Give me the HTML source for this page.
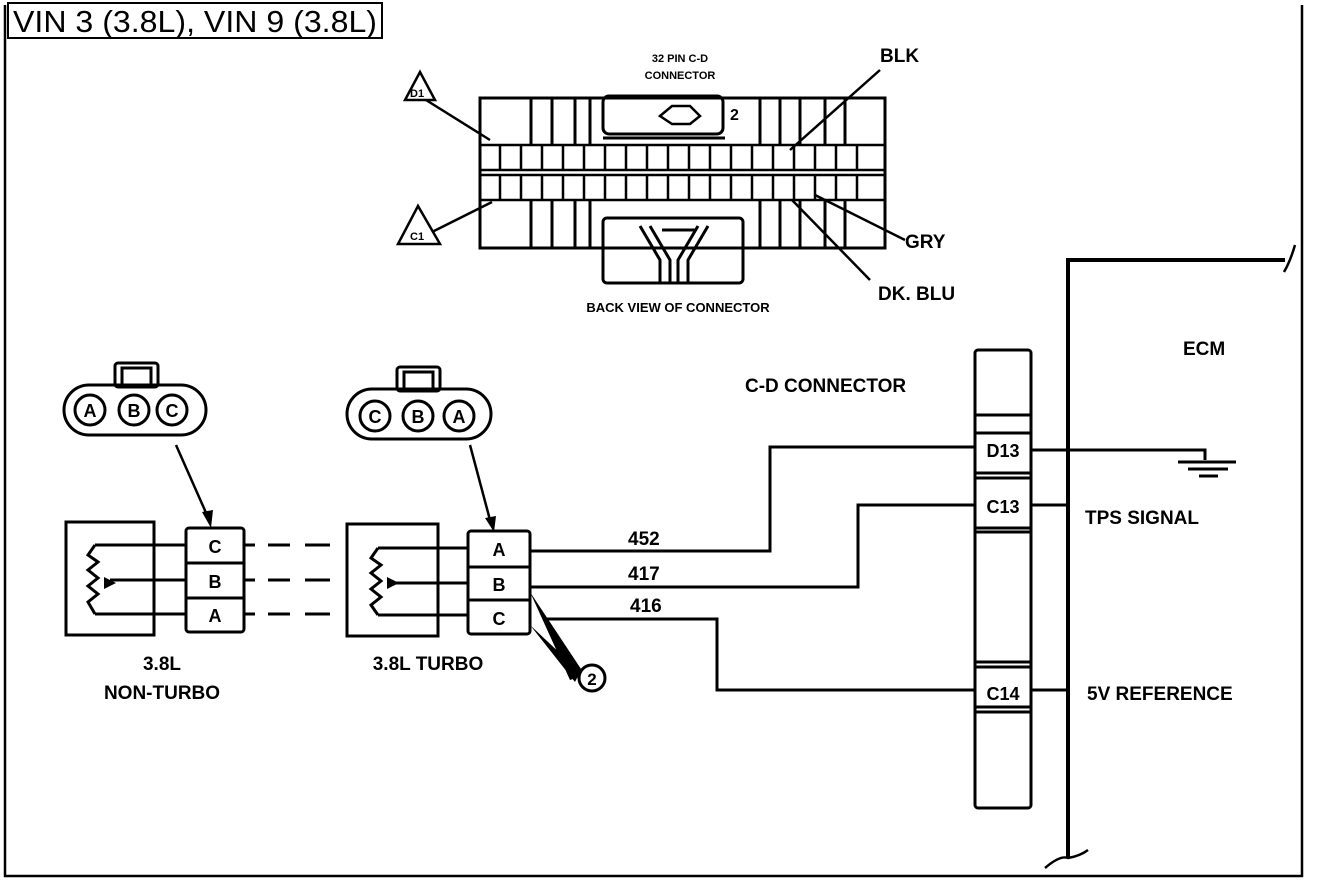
<!DOCTYPE html>
<html><head><meta charset="utf-8"><style>
html,body{margin:0;padding:0;background:#fff}
svg{display:block}
.b{font-family:"Liberation Sans",sans-serif;font-weight:bold;fill:#000}
</style></head><body>
<svg width="1328" height="880" viewBox="0 0 1328 880" xmlns="http://www.w3.org/2000/svg">
<g fill="none" stroke="#000" stroke-width="2.5">
<path d="M5 5 V876 H1302 V5"/>
<rect x="8" y="3" width="374" height="35" stroke-width="2"/>
</g>
<text x="13" y="32" font-family="Liberation Sans, sans-serif" font-size="31" fill="#000" textLength="364" lengthAdjust="spacingAndGlyphs">VIN 3 (3.8L), VIN 9 (3.8L)</text>

<g fill="none" stroke="#000" stroke-width="3">
<rect x="480" y="98" width="405" height="150"/>
<rect x="603" y="96" width="120" height="38" rx="6"/>
<path d="M603 138 H725"/>
<rect x="603" y="218" width="140" height="65" rx="4"/>
<path d="M640 226 L660 260 V283 M650 226 L670 260 V283 M708 226 L688 260 V283 M698 226 L678 260 V283 M662 230 H696"/>
<path d="M660 116 L672 106 L690 106 L700 116 L690 124 L672 124 Z" stroke-width="2.5"/>
<path d="M531 98 V145 M552 98 V145 M575 98 V145 M590 98 V145 M760 98 V145 M780 98 V145 M800 98 V145 M825 98 V145 M845 98 V145 M531 200 V248 M552 200 V248 M575 200 V248 M590 200 V248 M760 200 V248 M780 200 V248 M800 200 V248 M825 200 V248 M845 200 V248"/>
</g>
<g fill="none" stroke="#000" stroke-width="2.5">
<path d="M480 145 H885 M480 170 H885 M480 175 H885 M480 200 H885"/>
<path d="M500 145 V170 M521 145 V170 M542 145 V170 M563 145 V170 M584 145 V170 M605 145 V170 M626 145 V170 M647 145 V170 M668 145 V170 M689 145 V170 M710 145 V170 M731 145 V170 M752 145 V170 M773 145 V170 M794 145 V170 M815 145 V170 M836 145 V170 M857 145 V170"/>
<path d="M500 175 V200 M521 175 V200 M542 175 V200 M563 175 V200 M584 175 V200 M605 175 V200 M626 175 V200 M647 175 V200 M668 175 V200 M689 175 V200 M710 175 V200 M731 175 V200 M752 175 V200 M773 175 V200 M794 175 V200 M815 175 V200 M836 175 V200 M857 175 V200"/>
<path d="M426 100 L490 140 M432 232 L492 202 M880 70 L790 150 M905 240 L815 195 M870 280 L792 200"/>
<path d="M420 72 L405 100 H435 Z M418 206 L398 244 H440 Z"/>
</g>
<text class="b" x="410" y="97" font-size="11">D1</text>
<text class="b" x="410" y="240" font-size="11">C1</text>
<text class="b" x="680" y="62" font-size="11" text-anchor="middle">32 PIN C-D</text>
<text class="b" x="680" y="79" font-size="11" text-anchor="middle">CONNECTOR</text>
<text class="b" x="730" y="120" font-size="16">2</text>
<text class="b" x="678" y="312" font-size="13" text-anchor="middle">BACK VIEW OF CONNECTOR</text>
<text class="b" x="880" y="62" font-size="19">BLK</text>
<text class="b" x="905" y="248" font-size="19">GRY</text>
<text class="b" x="878" y="300" font-size="19">DK. BLU</text>

<g fill="none" stroke="#000" stroke-width="3">
<path d="M1068 258 V858 M1068 260 H1285" stroke-width="4"/>
<path d="M1284 272 Q1290 262 1295 245 M1045 868 Q1060 855 1068 858 Q1080 856 1088 850" stroke-width="2.5"/>
<rect x="975" y="350" width="56" height="458" rx="3"/>
<path d="M975 415 H1031 M975 433 H1031 M975 473 H1031 M975 478 H1031 M975 528 H1031 M975 532 H1031 M975 662 H1031 M975 667 H1031 M975 707 H1031 M975 712 H1031"/>
<path d="M1031 450 H1205 V460 M1178 462 H1236 M1188 469 H1228 M1199 476 H1218"/>
<path d="M1031 505 H1068 M1031 690 H1068"/>
<path d="M975 447 H770 V551 H530 M975 505 H858 V587 H530 M975 690 H717 V619 H545"/>
</g>
<text class="b" x="1003" y="457" font-size="18" text-anchor="middle">D13</text>
<text class="b" x="1003" y="513" font-size="18" text-anchor="middle">C13</text>
<text class="b" x="1003" y="700" font-size="18" text-anchor="middle">C14</text>
<text class="b" x="1183" y="355" font-size="19">ECM</text>
<text class="b" x="1085" y="524" font-size="19">TPS SIGNAL</text>
<text class="b" x="1087" y="700" font-size="19">5V REFERENCE</text>
<text class="b" x="745" y="392" font-size="19">C-D CONNECTOR</text>
<text class="b" x="628" y="545" font-size="19">452</text>
<text class="b" x="628" y="580" font-size="19">417</text>
<text class="b" x="630" y="612" font-size="19">416</text>

<g fill="none" stroke="#000" stroke-width="3">
<rect x="115" y="363" width="43" height="24" rx="3"/><rect x="122" y="368" width="29" height="19"/>
<rect x="64" y="385" width="142" height="50" rx="25"/>
<circle cx="90" cy="410" r="15"/><circle cx="134" cy="410" r="15"/><circle cx="172" cy="410" r="15"/>
<rect x="397" y="367" width="43" height="24" rx="3"/><rect x="404" y="372" width="29" height="19"/>
<rect x="347" y="389" width="144" height="50" rx="25"/>
<circle cx="375" cy="416" r="15"/><circle cx="418" cy="416" r="15"/><circle cx="459" cy="416" r="15"/>
<path d="M176 445 L207 515 M470 445 L490 520" stroke-width="2.5"/>
<rect x="66" y="522" width="88" height="113"/>
<rect x="186" y="528" width="58" height="104" rx="3"/>
<path d="M186 563 H244 M186 598 H244"/>
<path d="M186 545 H95 M186 580 H110 M186 614 H95 M95 545 L88 555 L98 562 L88 570 L98 578 L88 586 L98 594 L88 602 L95 614"/>
<path d="M244 545 H255 M268 545 H290 M305 545 H330 M244 580 H255 M268 580 H290 M305 580 H330 M244 614 H255 M268 614 H290 M305 614 H330"/>
<rect x="347" y="524" width="91" height="112"/>
<rect x="468" y="531" width="62" height="103" rx="3"/>
<path d="M468 567 H530 M468 600 H530"/>
<path d="M468 548 H378 M468 583 H392 M468 615 H378 M378 548 L371 558 L381 565 L371 573 L381 581 L371 589 L381 597 L371 605 L378 615"/>
</g>
<path d="M530 592 L585 675 L570 680 Z M530 625 L580 672 L575 682 Z" fill="#000"/>
<path d="M202 512 L213 510 L211 528 Z M485 518 L496 516 L494 532 Z M387 577 L399 583 L387 589 Z M104 577 L116 583 L104 589 Z" fill="#000"/>
<circle cx="592" cy="678" r="13" fill="#fff" stroke="#000" stroke-width="3"/>
<text class="b" x="592" y="685" font-size="17" text-anchor="middle">2</text>
<g class="b" font-size="18" text-anchor="middle">
<text x="90" y="417">A</text><text x="134" y="417">B</text><text x="172" y="417">C</text>
<text x="375" y="423">C</text><text x="418" y="423">B</text><text x="459" y="423">A</text>
<text x="215" y="553">C</text><text x="215" y="588">B</text><text x="215" y="622">A</text>
<text x="499" y="556">A</text><text x="499" y="591">B</text><text x="499" y="625">C</text>
</g>
<g class="b" font-size="19" text-anchor="middle">
<text x="162" y="670">3.8L</text><text x="162" y="699">NON-TURBO</text>
<text x="428" y="670">3.8L TURBO</text>
</g>
</svg>
</body></html>
